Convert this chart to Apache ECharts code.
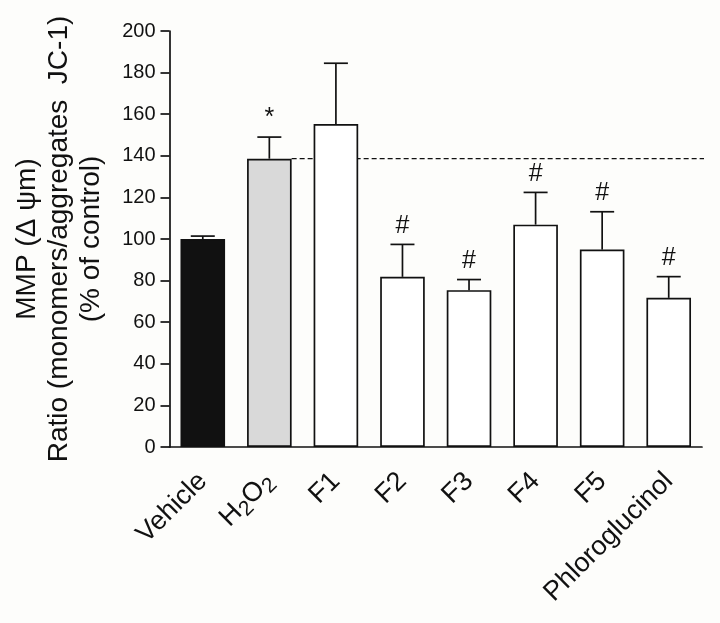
<!DOCTYPE html>
<html><head><meta charset="utf-8">
<script src="https://cdn.jsdelivr.net/npm/echarts@6/dist/echarts.min.js"></script>
<style>html,body{margin:0;padding:0;background:#fdfdfb}#c{width:720px;height:623px}</style>
</head><body><div id="c"></div>
<script>
// ---- data ----
const categories = ['Vehicle', 'H2O2', 'F1', 'F2', 'F3', 'F4', 'F5', 'Phloroglucinol'];
const means = [100, 138.6, 155.3, 81.8, 75.4, 106.9, 94.9, 71.7];
const errorTops = [101.4, 149, 184.5, 97.4, 80.5, 122.4, 113.1, 81.9];
const marks = ['', '*', '', '#', '#', '#', '#', '#'];
const refLineCategory = 1;
const refLineValue = 138.6;
const yMin = 0, yMax = 200, yStep = 20;

// ---- styles ----
const FONT = "'Liberation Sans', Arial, sans-serif";
const INK = '#111111';
const fills = { 0: '#111111', 1: '#d9d9d9' };
const BAR_FRAC = 0.67;
const LW = 1.7;

const chart = echarts.init(document.getElementById('c'), null, { renderer: 'canvas' });

const barData = means.map((v, i) => ({
  value: v,
  itemStyle: { color: fills[i] || '#ffffff', borderColor: INK, borderWidth: LW }
}));
const errData = means.map((v, i) => [i, v, errorTops[i]]);
const markData = marks.map((m, i) => [i, errorTops[i], m]).filter(d => d[2]);

chart.setOption({
  backgroundColor: '#fdfdfb',
  animation: false,
  grid: { left: 169.5, right: 18, top: 31, bottom: 176, containLabel: false },
  xAxis: {
    type: 'category',
    data: categories,
    axisLine: { lineStyle: { color: INK, width: LW } },
    axisTick: { alignWithLabel: true, length: 10, lineStyle: { color: INK, width: LW } },
    axisLabel: {
      rotate: 45, margin: 30, interval: 0, color: INK, fontFamily: FONT, fontSize: 27,
      formatter: v => v === 'H2O2' ? '{a|H}{s|2}{a|O}{s|2}' : v,
      rich: {
        a: { fontSize: 27, fontFamily: FONT, color: INK, lineHeight: 32 },
        s: { fontSize: 21, fontFamily: FONT, color: INK, lineHeight: 32, padding: [13, 0, 0, 0] }
      }
    }
  },
  yAxis: {
    type: 'value', min: yMin, max: yMax, interval: yStep,
    splitLine: { show: false },
    axisLine: { show: true, lineStyle: { color: INK, width: LW } },
    axisTick: { show: true, length: 9, lineStyle: { color: INK, width: LW } },
    axisLabel: { color: INK, fontFamily: FONT, fontSize: 20, margin: 14 },
    name: 'MMP (Δ ψm)\nRatio (monomers/aggregates  JC-1)\n(% of control)',
    nameLocation: 'middle', nameRotate: 90, nameGap: 62,
    nameTextStyle: { color: INK, fontFamily: FONT, fontSize: 28, lineHeight: 32, align: 'center' }
  },
  series: [
    {
      type: 'bar', data: barData, barWidth: (BAR_FRAC * 100) + '%', z: 2
    },
    {
      type: 'custom', data: errData, z: 3,
      renderItem(params, api) {
        const p0 = api.coord([api.value(0), api.value(1)]);
        const p1 = api.coord([api.value(0), api.value(2)]);
        const half = 12;
        const st = { stroke: INK, lineWidth: LW };
        return { type: 'group', children: [
          { type: 'line', shape: { x1: p0[0], y1: p0[1], x2: p1[0], y2: p1[1] }, style: st },
          { type: 'line', shape: { x1: p1[0] - half, y1: p1[1], x2: p1[0] + half, y2: p1[1] }, style: st }
        ]};
      }
    },
    {
      type: 'custom', data: [[refLineCategory, refLineValue]], z: 1,
      renderItem(params, api) {
        const c = api.coord([api.value(0), api.value(1)]);
        const band = api.size([1, 0])[0];
        const cs = params.coordSys;
        return { type: 'line',
          shape: { x1: c[0] + band * BAR_FRAC / 2, y1: c[1], x2: cs.x + cs.width + 2, y2: c[1] },
          style: { stroke: INK, lineWidth: 1.3, lineDash: [5, 3] } };
      }
    },
    {
      type: 'custom', data: markData, z: 4,
      renderItem(params, api) {
        const d = markData[params.dataIndex];
        const c = api.coord([d[0], d[1]]);
        return { type: 'text', x: c[0], y: c[1] - 6,
          style: { text: d[2], fill: INK, font: '25px ' + FONT, align: 'center', verticalAlign: 'bottom' } };
      }
    }
  ]
});
</script></body></html>
